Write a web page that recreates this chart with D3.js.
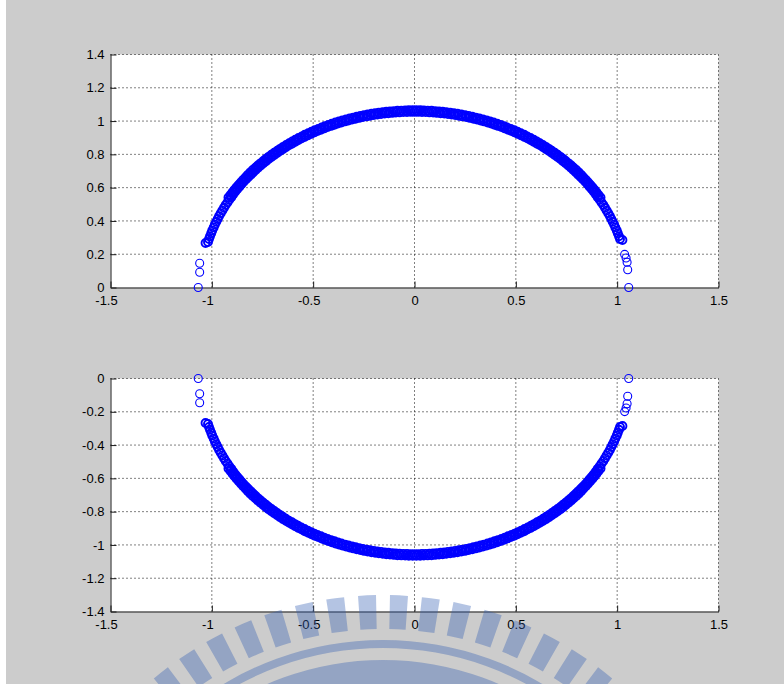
<!DOCTYPE html>
<html>
<head>
<meta charset="utf-8">
<script src="https://cdn.jsdelivr.net/npm/d3@7"></script>
<style>
  html, body { margin: 0; padding: 0; background: #ffffff; }
  svg { display: block; }
</style>
</head>
<body>
<svg id="fig" width="784" height="684"></svg>
<script>
// ---- data: root locations (real part, imaginary part) ----
// main arc, from the right end round to the left end
const arcRe = [
  1.026, 1.014, 1.009, 1.003, 0.998, 0.991, 0.985, 0.978, 0.971, 0.964, 0.956, 0.948, 0.940, 0.932, 0.923,
  0.914, 0.918, 0.904, 0.908, 0.895, 0.898, 0.885, 0.888, 0.875, 0.878,
  0.864, 0.867, 0.854, 0.856, 0.843, 0.845, 0.831, 0.833, 0.820, 0.822,
  0.808, 0.810, 0.796, 0.798, 0.784, 0.785, 0.772, 0.773, 0.759, 0.760,
  0.746, 0.746, 0.733, 0.733, 0.720, 0.720, 0.706, 0.706, 0.692, 0.692,
  0.678, 0.677, 0.664, 0.663, 0.650, 0.648, 0.635, 0.633, 0.620, 0.618,
  0.605, 0.603, 0.590, 0.588, 0.575, 0.572, 0.559, 0.556, 0.543, 0.541,
  0.527, 0.524, 0.511, 0.508, 0.495, 0.492, 0.479, 0.475, 0.462, 0.458,
  0.446, 0.442, 0.429, 0.425, 0.412, 0.408, 0.395, 0.390, 0.378, 0.373,
  0.361, 0.356, 0.343, 0.338, 0.326, 0.320, 0.308, 0.302, 0.291, 0.285,
  0.273, 0.267, 0.255, 0.249, 0.237, 0.231, 0.219, 0.212, 0.201, 0.194,
  0.183, 0.176, 0.165, 0.157, 0.147, 0.139, 0.129, 0.121, 0.110, 0.102,
  0.092, 0.084, 0.074, 0.065, 0.055, 0.046, 0.037, 0.028, 0.018, 0.009,
  0,
  -0.009, -0.018, -0.028, -0.037, -0.046, -0.055, -0.065, -0.074, -0.084, -0.092,
  -0.102, -0.110, -0.121, -0.129, -0.139, -0.147, -0.157, -0.165, -0.176, -0.183,
  -0.194, -0.201, -0.212, -0.219, -0.231, -0.237, -0.249, -0.255, -0.267, -0.273,
  -0.285, -0.291, -0.302, -0.308, -0.320, -0.326, -0.338, -0.343, -0.356, -0.361,
  -0.373, -0.378, -0.390, -0.395, -0.408, -0.412, -0.425, -0.429, -0.442, -0.446,
  -0.458, -0.462, -0.475, -0.479, -0.492, -0.495, -0.508, -0.511, -0.524, -0.527,
  -0.541, -0.543, -0.556, -0.559, -0.572, -0.575, -0.588, -0.590, -0.603, -0.605,
  -0.618, -0.620, -0.633, -0.635, -0.648, -0.650, -0.663, -0.664, -0.677, -0.678,
  -0.692, -0.692, -0.706, -0.706, -0.720, -0.720, -0.733, -0.733, -0.746, -0.746,
  -0.760, -0.759, -0.773, -0.772, -0.785, -0.784, -0.798, -0.796, -0.810, -0.808,
  -0.822, -0.820, -0.833, -0.831, -0.845, -0.843, -0.856, -0.854, -0.867, -0.864,
  -0.878, -0.875, -0.888, -0.885, -0.898, -0.895, -0.908, -0.904, -0.918, -0.914,
  -0.923, -0.932, -0.940, -0.948, -0.956, -0.964, -0.971, -0.978, -0.985, -0.991,
  -0.998, -1.003, -1.009, -1.014, -1.019, -1.031
];
const arcImUpper = [
  0.285, 0.291, 0.308, 0.326, 0.343, 0.361, 0.378, 0.395, 0.412, 0.429, 0.446, 0.462, 0.479, 0.495, 0.511,
  0.527, 0.541, 0.543, 0.556, 0.559, 0.572, 0.575, 0.588, 0.590, 0.603,
  0.605, 0.618, 0.620, 0.633, 0.635, 0.648, 0.650, 0.663, 0.664, 0.677,
  0.678, 0.692, 0.692, 0.706, 0.706, 0.720, 0.720, 0.733, 0.733, 0.746,
  0.746, 0.760, 0.759, 0.773, 0.772, 0.785, 0.784, 0.798, 0.796, 0.810,
  0.808, 0.822, 0.820, 0.833, 0.831, 0.845, 0.843, 0.856, 0.854, 0.867,
  0.864, 0.878, 0.875, 0.888, 0.885, 0.898, 0.895, 0.908, 0.904, 0.918,
  0.914, 0.927, 0.923, 0.936, 0.932, 0.945, 0.940, 0.953, 0.948, 0.961,
  0.956, 0.969, 0.964, 0.977, 0.971, 0.984, 0.978, 0.991, 0.985, 0.998,
  0.991, 1.004, 0.998, 1.010, 1.003, 1.016, 1.009, 1.021, 1.014, 1.026,
  1.019, 1.031, 1.024, 1.036, 1.028, 1.040, 1.032, 1.044, 1.036, 1.047,
  1.039, 1.050, 1.042, 1.053, 1.045, 1.056, 1.047, 1.058, 1.049, 1.060,
  1.051, 1.062, 1.052, 1.063, 1.054, 1.064, 1.054, 1.065, 1.055, 1.065,
  1.055,
  1.065, 1.055, 1.065, 1.054, 1.064, 1.054, 1.063, 1.052, 1.062, 1.051,
  1.060, 1.049, 1.058, 1.047, 1.056, 1.045, 1.053, 1.042, 1.050, 1.039,
  1.047, 1.036, 1.044, 1.032, 1.040, 1.028, 1.036, 1.024, 1.031, 1.019,
  1.026, 1.014, 1.021, 1.009, 1.016, 1.003, 1.010, 0.998, 1.004, 0.991,
  0.998, 0.985, 0.991, 0.978, 0.984, 0.971, 0.977, 0.964, 0.969, 0.956,
  0.961, 0.948, 0.953, 0.940, 0.945, 0.932, 0.936, 0.923, 0.927, 0.914,
  0.918, 0.904, 0.908, 0.895, 0.898, 0.885, 0.888, 0.875, 0.878, 0.864,
  0.867, 0.854, 0.856, 0.843, 0.845, 0.831, 0.833, 0.820, 0.822, 0.808,
  0.810, 0.796, 0.798, 0.784, 0.785, 0.772, 0.773, 0.759, 0.760, 0.746,
  0.746, 0.733, 0.733, 0.720, 0.720, 0.706, 0.706, 0.692, 0.692, 0.678,
  0.677, 0.664, 0.663, 0.650, 0.648, 0.635, 0.633, 0.620, 0.618, 0.605,
  0.603, 0.590, 0.588, 0.575, 0.572, 0.559, 0.556, 0.543, 0.541, 0.527,
  0.511, 0.495, 0.479, 0.462, 0.446, 0.429, 0.412, 0.395, 0.378, 0.361,
  0.343, 0.326, 0.308, 0.291, 0.273, 0.267
];
const arcImLower = [
  -0.285, -0.291, -0.308, -0.326, -0.343, -0.361, -0.378, -0.395, -0.412, -0.429, -0.446, -0.462, -0.479, -0.495, -0.511,
  -0.527, -0.541, -0.543, -0.556, -0.559, -0.572, -0.575, -0.588, -0.590, -0.603,
  -0.605, -0.618, -0.620, -0.633, -0.635, -0.648, -0.650, -0.663, -0.664, -0.677,
  -0.678, -0.692, -0.692, -0.706, -0.706, -0.720, -0.720, -0.733, -0.733, -0.746,
  -0.746, -0.760, -0.759, -0.773, -0.772, -0.785, -0.784, -0.798, -0.796, -0.810,
  -0.808, -0.822, -0.820, -0.833, -0.831, -0.845, -0.843, -0.856, -0.854, -0.867,
  -0.864, -0.878, -0.875, -0.888, -0.885, -0.898, -0.895, -0.908, -0.904, -0.918,
  -0.914, -0.927, -0.923, -0.936, -0.932, -0.945, -0.940, -0.953, -0.948, -0.961,
  -0.956, -0.969, -0.964, -0.977, -0.971, -0.984, -0.978, -0.991, -0.985, -0.998,
  -0.991, -1.004, -0.998, -1.010, -1.003, -1.016, -1.009, -1.021, -1.014, -1.026,
  -1.019, -1.031, -1.024, -1.036, -1.028, -1.040, -1.032, -1.044, -1.036, -1.047,
  -1.039, -1.050, -1.042, -1.053, -1.045, -1.056, -1.047, -1.058, -1.049, -1.060,
  -1.051, -1.062, -1.052, -1.063, -1.054, -1.064, -1.054, -1.065, -1.055, -1.065,
  -1.055,
  -1.065, -1.055, -1.065, -1.054, -1.064, -1.054, -1.063, -1.052, -1.062, -1.051,
  -1.060, -1.049, -1.058, -1.047, -1.056, -1.045, -1.053, -1.042, -1.050, -1.039,
  -1.047, -1.036, -1.044, -1.032, -1.040, -1.028, -1.036, -1.024, -1.031, -1.019,
  -1.026, -1.014, -1.021, -1.009, -1.016, -1.003, -1.010, -0.998, -1.004, -0.991,
  -0.998, -0.985, -0.991, -0.978, -0.984, -0.971, -0.977, -0.964, -0.969, -0.956,
  -0.961, -0.948, -0.953, -0.940, -0.945, -0.932, -0.936, -0.923, -0.927, -0.914,
  -0.918, -0.904, -0.908, -0.895, -0.898, -0.885, -0.888, -0.875, -0.878, -0.864,
  -0.867, -0.854, -0.856, -0.843, -0.845, -0.831, -0.833, -0.820, -0.822, -0.808,
  -0.810, -0.796, -0.798, -0.784, -0.785, -0.772, -0.773, -0.759, -0.760, -0.746,
  -0.746, -0.733, -0.733, -0.720, -0.720, -0.706, -0.706, -0.692, -0.692, -0.678,
  -0.677, -0.664, -0.663, -0.650, -0.648, -0.635, -0.633, -0.620, -0.618, -0.605,
  -0.603, -0.590, -0.588, -0.575, -0.572, -0.559, -0.556, -0.543, -0.541, -0.527,
  -0.511, -0.495, -0.479, -0.462, -0.446, -0.429, -0.412, -0.395, -0.378, -0.361,
  -0.343, -0.326, -0.308, -0.291, -0.273, -0.267
];

// isolated roots near the real axis
const spurRe       = [-1.067, -1.060, -1.060, 1.057, 1.052, 1.049, 1.044, 1.037];
const spurImUpper  = [0, 0.092, 0.146, 0, 0.107, 0.152, 0.177, 0.199];
const spurImLower  = [0, -0.092, -0.146, 0, -0.107, -0.152, -0.177, -0.199];

// ---- axis ticks ----
const xTicks = [-1.5, -1, -0.5, 0, 0.5, 1, 1.5];
const xTickLabels = ["-1.5", "-1", "-0.5", "0", "0.5", "1", "1.5"];
const yTicksUpper = [0, 0.2, 0.4, 0.6, 0.8, 1, 1.2, 1.4];
const yTickLabelsUpper = ["0", "0.2", "0.4", "0.6", "0.8", "1", "1.2", "1.4"];
const yTicksLower = [-1.4, -1.2, -1, -0.8, -0.6, -0.4, -0.2, 0];
const yTickLabelsLower = ["-1.4", "-1.2", "-1", "-0.8", "-0.6", "-0.4", "-0.2", "0"];

// ---- drawing ----
const W = 784, H = 684;
const FONT = "'Liberation Sans', Arial, Helvetica, sans-serif";
const svg = d3.select("#fig");

// figure background
svg.append("rect").attr("x", 6).attr("y", 0).attr("width", W - 6).attr("height", H).attr("fill", "#cccccc");

const x = d3.scaleLinear().domain([-1.5, 1.5]).range([110.5, 718.5]);

function drawPanel(yDomain, yRange, yTicks, yLabels, arcIm, spurIm) {
  const y = d3.scaleLinear().domain(yDomain).range(yRange);
  const g = svg.append("g");
  const [x0, x1] = x.range();
  const [yb, yt] = y.range();

  g.append("rect")
    .attr("x", x0).attr("y", yt)
    .attr("width", x1 - x0).attr("height", yb - yt)
    .attr("fill", "#ffffff");

  // dotted grid
  const grid = g.append("g")
    .attr("stroke", "#000000").attr("stroke-width", 1)
    .attr("stroke-dasharray", "1,3");
  grid.selectAll("line.v").data(xTicks.slice(1)).join("line")
    .attr("class", "v")
    .attr("x1", d => x(d)).attr("x2", d => x(d))
    .attr("y1", yb).attr("y2", yt);
  grid.selectAll("line.h").data(yTicks.slice(1)).join("line")
    .attr("class", "h")
    .attr("x1", x0).attr("x2", x1)
    .attr("y1", d => y(d)).attr("y2", d => y(d));

  // axes with inward ticks
  const xAxis = d3.axisBottom(x)
    .tickValues(xTicks)
    .tickFormat((d, i) => xTickLabels[i])
    .tickSizeInner(-6).tickSizeOuter(0).tickPadding(8);
  const yAxis = d3.axisLeft(y)
    .tickValues(yTicks)
    .tickFormat((d, i) => yLabels[i])
    .tickSizeInner(-6).tickSizeOuter(0).tickPadding(6);

  const gx = g.append("g").attr("transform", `translate(0,${yb})`).call(xAxis);
  const gy = g.append("g").attr("transform", `translate(${x0},0)`).call(yAxis);
  [gx, gy].forEach(a => {
    a.attr("font-family", FONT).attr("font-size", 13).attr("color", "#1a1a1a");
    a.selectAll("text").attr("fill", "#000000");
  });
  gx.selectAll(".tick text").attr("dx", d => d < 0 ? -4.5 : 0);

  // markers: dense arc, then the isolated roots
  const marks = g.append("g").attr("fill", "none").attr("stroke", "#0000ff");
  marks.selectAll("circle.arc")
    .data(d3.range(arcRe.length))
    .join("circle")
    .attr("class", "arc")
    .attr("cx", i => x(arcRe[i]))
    .attr("cy", i => y(arcIm[i]))
    .attr("r", 4)
    .attr("stroke-width", 1.9);
  marks.selectAll("circle.spur")
    .data(d3.range(spurRe.length))
    .join("circle")
    .attr("class", "spur")
    .attr("cx", i => x(spurRe[i]))
    .attr("cy", i => y(spurIm[i]))
    .attr("r", 4)
    .attr("stroke-width", 1.1);
}

drawPanel([0, 1.4], [287.5, 54.5], yTicksUpper, yTickLabelsUpper, arcImUpper, spurImUpper);
drawPanel([-1.4, 0], [611.5, 378.5], yTicksLower, yTickLabelsLower, arcImLower, spurImLower);

// translucent emblem along the bottom of the figure
const emblem = svg.append("g")
  .attr("transform", "translate(383,951)")
  .attr("fill", "rgb(51,94,180)")
  .attr("fill-opacity", 0.37);
const deg = Math.PI / 180;
const toothArc = d3.arc().innerRadius(322).outerRadius(356);
emblem.selectAll("path.tooth")
  .data(d3.range(-14, 14))
  .join("path")
  .attr("class", "tooth")
  .attr("d", k => toothArc({
    startAngle: (k * 5.15 + 2.575 - 1.45) * deg,
    endAngle: (k * 5.15 + 2.575 + 1.45) * deg
  }));
emblem.append("path")
  .attr("d", d3.arc().innerRadius(303).outerRadius(311)({ startAngle: -80 * deg, endAngle: 80 * deg }));
emblem.append("path")
  .attr("d", d3.arc().innerRadius(262).outerRadius(291)({ startAngle: -80 * deg, endAngle: 80 * deg }));
</script>
</body>
</html>
